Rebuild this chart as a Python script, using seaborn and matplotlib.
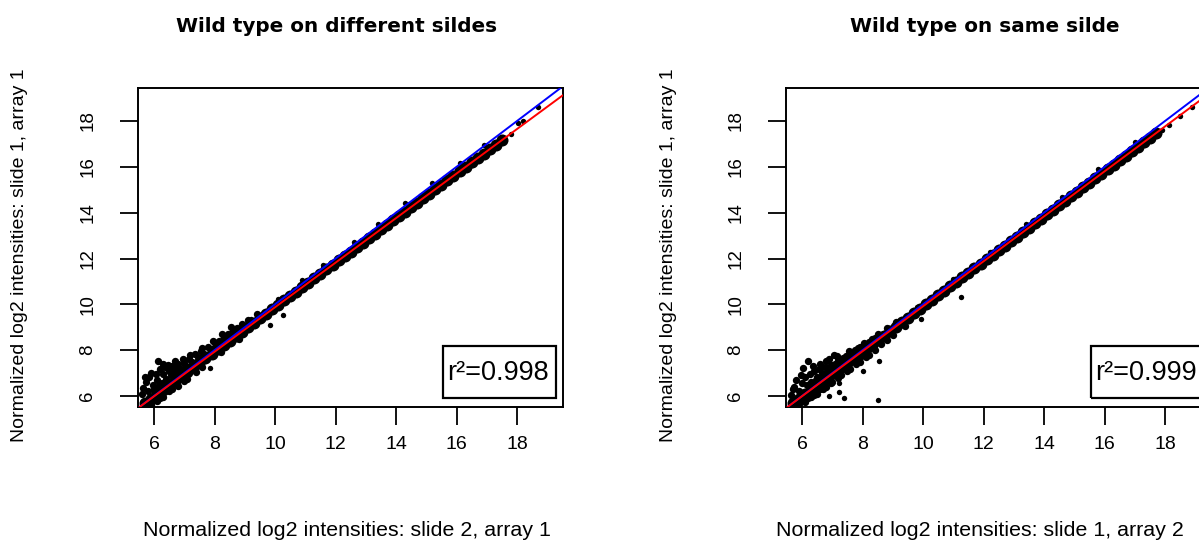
import matplotlib
matplotlib.use("Agg")
import matplotlib.pyplot as plt
import seaborn as sns
from matplotlib.patches import Rectangle

# ---------------- data ----------------
titles = ["Wild type on different sildes", "Wild type on same silde"]
x_labels = ["Normalized log2 intensities: slide 2, array 1",
            "Normalized log2 intensities: slide 1, array 2"]
y_labels = ["Normalized log2 intensities: slide 1, array 1",
            "Normalized log2 intensities: slide 1, array 1"]
r2_texts = ["r\u00b2=0.998", "r\u00b2=0.999"]
tick_values = [6, 8, 10, 12, 14, 16, 18]
tick_labels = ["6", "8", "10", "12", "14", "16", "18"]

# identity (blue) and fitted regression (red) lines: intercept, slope
identity_line = (0.0, 1.0)
fit_left = (0.154, 0.972)
fit_right = (0.105, 0.981)

# dense core of spots (left panel)
left_core_x = [5.7, 5.9, 6.1, 6.3, 6.5, 6.7, 6.9, 7.1, 7.3, 7.5, 7.7, 7.9, 8.1, 8.3, 8.5,
               8.7, 8.9, 9.1, 9.3, 9.5, 9.7, 9.9, 10.1, 10.3, 10.5, 10.7, 10.9, 11.1, 11.3,
               11.5, 11.7, 11.9, 12.1, 12.3, 12.5, 12.7, 12.9, 13.1, 13.3, 13.5, 13.7, 13.9,
               14.1, 14.3, 14.5, 14.7, 14.9, 15.1, 15.3, 15.5, 15.7, 15.9, 16.1, 16.3, 16.5,
               16.7, 16.9, 17.1, 17.3, 17.5]
left_core_y = [5.70, 5.88, 6.09, 6.27, 6.48, 6.66, 6.87, 7.05, 7.26, 7.44, 7.64, 7.83, 8.03,
               8.22, 8.42, 8.61, 8.81, 9.00, 9.20, 9.39, 9.58, 9.78, 9.97, 10.17, 10.36, 10.55,
               10.75, 10.94, 11.14, 11.33, 11.53, 11.72, 11.92, 12.11, 12.30, 12.50, 12.69,
               12.89, 13.08, 13.28, 13.47, 13.66, 13.86, 14.05, 14.25, 14.44, 14.64, 14.83,
               15.03, 15.22, 15.41, 15.61, 15.80, 16.00, 16.19, 16.39, 16.58, 16.78, 16.97,
               17.16]
# low-intensity cloud of spots (left panel)
left_cloud_x = [5.60, 5.65, 5.75, 5.80, 5.85, 5.95, 6.00, 6.05, 6.10, 6.13, 6.20, 6.25, 6.30,
                6.35, 6.40, 6.50, 6.55, 6.60, 6.69, 6.69, 6.75, 6.80, 6.90, 7.00, 7.05, 7.15,
                7.25, 7.35, 7.45, 7.55, 7.65, 7.80, 7.90, 8.00, 8.15, 8.30, 8.45, 8.60, 8.75,
                5.70, 5.90, 6.00, 6.15, 6.28, 6.45, 6.62, 6.72, 6.85, 6.95, 7.10, 7.20, 7.30,
                7.50, 7.60, 7.75, 7.95, 8.10, 8.25, 8.40, 8.55, 8.70, 8.90, 9.10, 9.40,
                5.80, 5.90, 6.10, 6.20, 6.30, 6.50, 6.60, 6.80, 7.00, 7.10, 7.40, 7.60,
                8.20, 8.80]
left_cloud_y = [6.10, 6.35, 6.60, 6.20, 6.85, 6.50, 6.30, 6.95, 6.70, 7.53, 7.20, 6.55, 6.95,
                7.25, 6.75, 7.10, 6.90, 7.30, 7.53, 7.14, 7.15, 7.40, 7.20, 7.45, 7.30, 7.60,
                7.50, 7.85, 7.70, 7.95, 7.85, 8.15, 8.05, 8.30, 8.40, 8.55, 8.70, 8.85, 8.95,
                6.85, 7.00, 6.05, 6.45, 7.40, 7.35, 6.55, 6.95, 6.90, 7.60, 7.20, 7.80, 7.30,
                7.55, 8.10, 7.75, 8.40, 8.15, 8.70, 8.45, 9.00, 8.75, 9.15, 9.30, 9.60,
                5.55, 5.60, 5.80, 5.90, 5.95, 6.20, 6.30, 6.45, 6.65, 6.75, 7.05, 7.25,
                7.90, 8.50]
# isolated spots (left panel)
left_spot_x = [7.85, 9.83, 10.26,
               9.20, 9.60, 10.10, 10.40, 10.90, 11.30, 11.60, 12.20, 12.60, 13.00,
               13.40, 13.90, 14.30, 14.70, 15.20, 15.60, 16.10, 16.50, 16.90,
               17.54, 17.80, 18.03, 18.20, 18.69]
left_spot_y = [7.22, 9.10, 9.54,
               9.35, 9.38, 10.22, 10.18, 11.05, 11.08, 11.72, 11.95, 12.72, 12.75,
               13.52, 13.58, 14.42, 14.38, 15.30, 15.25, 16.18, 16.08, 16.95,
               17.18, 17.45, 17.90, 18.00, 18.61]

# dense core of spots (right panel)
right_core_x = [5.7, 5.9, 6.1, 6.3, 6.5, 6.7, 6.9, 7.1, 7.3, 7.5, 7.7, 7.9, 8.1, 8.3, 8.5,
                8.7, 8.9, 9.1, 9.3, 9.5, 9.7, 9.9, 10.1, 10.3, 10.5, 10.7, 10.9, 11.1, 11.3,
                11.5, 11.7, 11.9, 12.1, 12.3, 12.5, 12.7, 12.9, 13.1, 13.3, 13.5, 13.7, 13.9,
                14.1, 14.3, 14.5, 14.7, 14.9, 15.1, 15.3, 15.5, 15.7, 15.9, 16.1, 16.3, 16.5,
                16.7, 16.9, 17.1, 17.3, 17.5, 17.7]
right_core_y = [5.71, 5.88, 6.10, 6.28, 6.49, 6.67, 6.88, 7.06, 7.27, 7.46, 7.67, 7.85, 8.06,
                8.24, 8.45, 8.63, 8.84, 9.03, 9.23, 9.42, 9.63, 9.81, 10.02, 10.20, 10.41,
                10.60, 10.80, 10.99, 11.20, 11.38, 11.59, 11.78, 11.98, 12.17, 12.37, 12.56,
                12.77, 12.95, 13.16, 13.35, 13.55, 13.74, 13.94, 14.13, 14.34, 14.52, 14.73,
                14.92, 15.12, 15.31, 15.51, 15.70, 15.90, 16.09, 16.30, 16.48, 16.69, 16.88,
                17.08, 17.27, 17.47]
# low-intensity cloud of spots (right panel)
right_cloud_x = [5.65, 5.75, 5.80, 5.90, 6.00, 6.03, 6.10, 6.20, 6.25, 6.30, 6.40, 6.50, 6.55,
                 6.65, 6.79, 6.75, 6.85, 6.95, 7.06, 7.10, 7.20, 7.35, 7.45, 7.60, 7.75, 7.90,
                 8.05, 8.30, 8.50, 8.80, 9.10,
                 5.70, 5.95, 6.15, 6.35, 6.45, 6.60, 6.70, 6.90, 7.00, 7.15, 7.25, 7.40, 7.55,
                 7.70, 7.85, 8.00, 8.20, 8.40,
                 5.85, 6.10, 6.30, 6.50, 6.60, 6.80, 7.00, 7.30, 7.60, 7.90, 8.20, 8.60, 9.00,
                 9.40, 5.90, 6.20, 6.40, 6.70, 6.95, 7.20, 7.50, 7.80, 8.10, 8.40, 8.80]
right_cloud_y = [6.05, 6.40, 6.70, 6.20, 6.55, 7.22, 6.85, 7.53, 6.95, 6.60, 7.10, 6.85, 7.20,
                 7.00, 7.53, 7.25, 7.10, 7.35, 7.79, 7.40, 7.55, 7.65, 7.75, 7.85, 8.00, 8.15,
                 8.30, 8.50, 8.70, 8.95, 9.25,
                 6.30, 6.90, 6.50, 7.30, 6.70, 7.40, 6.90, 7.60, 7.15, 7.75, 7.30, 7.50, 7.95,
                 7.75, 8.10, 8.05, 8.35, 8.55,
                 5.60, 5.75, 5.95, 6.10, 6.30, 6.40, 6.60, 6.90, 7.20, 7.50, 7.80, 8.25, 8.65,
                 9.05, 5.65, 5.90, 6.05, 6.30, 6.55, 6.80, 7.10, 7.40, 7.70, 8.00, 8.45]
# isolated spots (right panel)
right_spot_x = [6.89, 7.22, 7.22, 7.39, 8.51, 8.02, 8.55, 9.93, 11.26,
                9.80, 10.40, 11.00, 11.60, 12.20, 12.80, 13.40, 14.00, 14.60, 15.20, 15.80,
                16.40, 17.00,
                17.90, 18.13, 18.50, 18.90]
right_spot_y = [6.00, 6.17, 6.57, 5.91, 5.83, 7.09, 7.53, 9.36, 10.32,
                9.90, 10.25, 11.10, 11.45, 12.30, 12.62, 13.50, 13.80, 14.70, 14.98, 15.90,
                16.17, 17.08,
                17.60, 17.83, 18.20, 18.60]

# ---------------- figure ----------------
sns.set_style("ticks")
plt.rcParams["font.family"] = ["Liberation Sans", "DejaVu Sans"]
plt.rcParams["text.color"] = "black"
plt.rcParams["xtick.color"] = "black"
plt.rcParams["ytick.color"] = "black"
plt.rcParams["axes.edgecolor"] = "black"

W, H = 1199, 542
fig = plt.figure(figsize=(W / 100, H / 100), dpi=100)

axes_px = [(138, 88, 425, 319), (786, 88, 425, 319)]
title_px = [(337, 26), (985, 26)]
xlabel_px = [(347, 530), (980, 530)]
ylabel_px = [(20, 255), (668, 255)]

panels = [
    (left_core_x, left_core_y, left_cloud_x, left_cloud_y, left_spot_x, left_spot_y, fit_left),
    (right_core_x, right_core_y, right_cloud_x, right_cloud_y, right_spot_x, right_spot_y,
     fit_right),
]

for i, (cx, cy, kx, ky, sx, sy, fit) in enumerate(panels):
    x0, y0, w, h = axes_px[i]
    ax = fig.add_axes([x0 / W, 1 - (y0 + h) / H, w / W, h / H])
    ax.set_facecolor("white")

    sns.scatterplot(x=cx, y=cy, ax=ax, color="black", s=75, linewidth=0, zorder=2)
    sns.scatterplot(x=kx, y=ky, ax=ax, color="black", s=28, linewidth=0, zorder=2)
    sns.scatterplot(x=sx, y=sy, ax=ax, color="black", s=15, linewidth=0, zorder=2)

    ax.axline((0, identity_line[0]), slope=identity_line[1], color="#0000ff", lw=1.4, zorder=3)
    ax.axline((0, fit[0]), slope=fit[1], color="#ff0000", lw=1.4, zorder=4)

    ax.set_xlim(5.47, 19.52)
    ax.set_ylim(5.52, 19.44)
    ax.set_xticks(tick_values)
    ax.set_xticklabels(tick_labels, fontsize=14)
    ax.set_yticks(tick_values)
    ax.set_yticklabels(tick_labels, fontsize=13.5, rotation=90, va="center")
    ax.tick_params(axis="both", which="major", direction="out", length=13, width=1.3,
                   color="black", labelcolor="black", bottom=True, left=True,
                   top=False, right=False)
    ax.tick_params(axis="x", pad=8)
    ax.tick_params(axis="y", pad=17)
    ax.set_xlabel("")
    ax.set_ylabel("")
    for sp in ax.spines.values():
        sp.set_visible(True)
        sp.set_color("black")
        sp.set_linewidth(1.4)

    ax.add_patch(Rectangle((0.7176, 0.0282), 0.266, 0.163, transform=ax.transAxes,
                           fill=False, edgecolor="black", lw=1.6, zorder=5))
    ax.text(0.727, 0.108, r2_texts[i], transform=ax.transAxes, ha="left", va="center",
            fontsize=19.5, color="black", zorder=6)

    tx, ty = title_px[i]
    fig.text(tx / W, 1 - ty / H, titles[i], ha="center", va="center", fontsize=14.4,
             fontweight="bold", family=["DejaVu Sans"], color="black")
    lx, ly = xlabel_px[i]
    fig.text(lx / W, 1 - ly / H, x_labels[i], ha="center", va="center", fontsize=15.4,
             color="black")
    yx, yy = ylabel_px[i]
    fig.text(yx / W, 1 - yy / H, y_labels[i], ha="center", va="center", fontsize=14,
             rotation=90, color="black")

fig.savefig("out.png", dpi=100, facecolor="white")
